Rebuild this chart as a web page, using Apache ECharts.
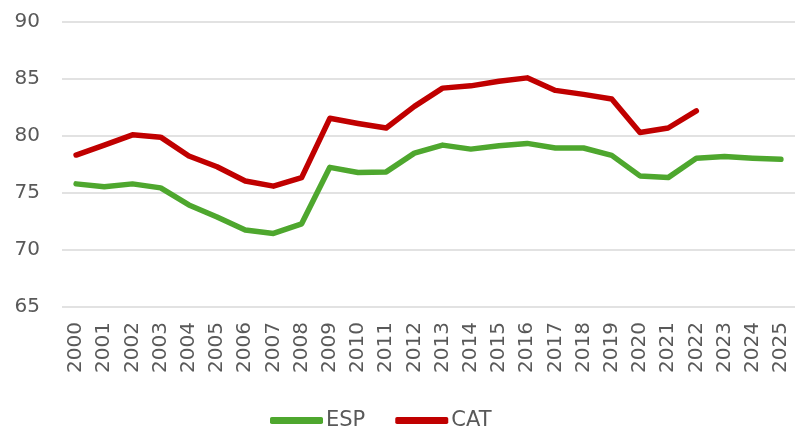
<!DOCTYPE html>
<html>
<head>
<meta charset="utf-8">
<script src="https://cdn.jsdelivr.net/npm/echarts@6/dist/echarts.min.js"></script>
<style>
  html, body { margin: 0; padding: 0; background: #fff; }
  #chart { width: 795px; height: 427px; }
</style>
</head>
<body>
<div id="chart"></div>
<script>
// años (eje x)
const years = ['2000', '2001', '2002', '2003', '2004', '2005', '2006', '2007', '2008', '2009',
  '2010', '2011', '2012', '2013', '2014', '2015', '2016', '2017', '2018', '2019',
  '2020', '2021', '2022', '2023', '2024', '2025']
// valores
const esp = [75.8, 75.55, 75.8, 75.45, 73.95, 72.9, 71.75, 71.45, 72.3, 77.25,
  76.8, 76.85, 78.5, 79.2, 78.85, 79.15, 79.35, 78.95, 78.95, 78.3,
  76.5, 76.35, 78.05, 78.2, 78.05, 77.95]
const cat = [78.33, 79.2, 80.1, 79.9, 78.25, 77.3, 76.05, 75.6, 76.35, 81.55,
  81.1, 80.7, 82.6, 84.2, 84.4, 84.8, 85.1, 84.0, 83.65, 83.25,
  80.3, 80.7, 82.2, null, null, null]

const labelColor = '#595959'
const font = 'DejaVu Sans'

let myChart = echarts.init(document.getElementById('chart'))
let option = {
  animation: false,
  grid: {
    left: 62,
    top: 22,
    width: 741,
    height: 285
  },
  legend: {
    top: 405,
    left: 265,
    itemWidth: 53,
    itemHeight: 7,
    itemGap: 30,
    icon: 'roundRect',
    textStyle: { fontFamily: font, fontSize: 21, color: labelColor, padding: [0, 0, 0, -2] },
    data: ['ESP', 'CAT']
  },
  xAxis: {
    type: 'category',
    data: years,
    boundaryGap: true,
    axisLine: { show: false },
    axisTick: { show: false },
    axisLabel: {
      rotate: 90,
      margin: 15,
      interval: 0,
      fontFamily: font,
      fontSize: 20,
      color: labelColor
    }
  },
  yAxis: {
    type: 'value',
    min: 65,
    max: 90,
    interval: 5,
    axisLine: { show: false },
    axisTick: { show: false },
    axisLabel: {
      margin: 22,
      fontFamily: font,
      fontSize: 20,
      color: labelColor
    },
    splitLine: { lineStyle: { color: '#d9d9d9', width: 1.5 } }
  },
  series: [
    {
      name: 'ESP',
      type: 'line',
      data: esp,
      symbol: 'none',
      color: '#4ea72e',
      lineStyle: { width: 5.5, cap: 'round', join: 'round' }
    },
    {
      name: 'CAT',
      type: 'line',
      data: cat,
      symbol: 'none',
      color: '#c00000',
      lineStyle: { width: 5.5, cap: 'round', join: 'round' }
    }
  ]
}
myChart.setOption(option)
</script>
</body>
</html>
